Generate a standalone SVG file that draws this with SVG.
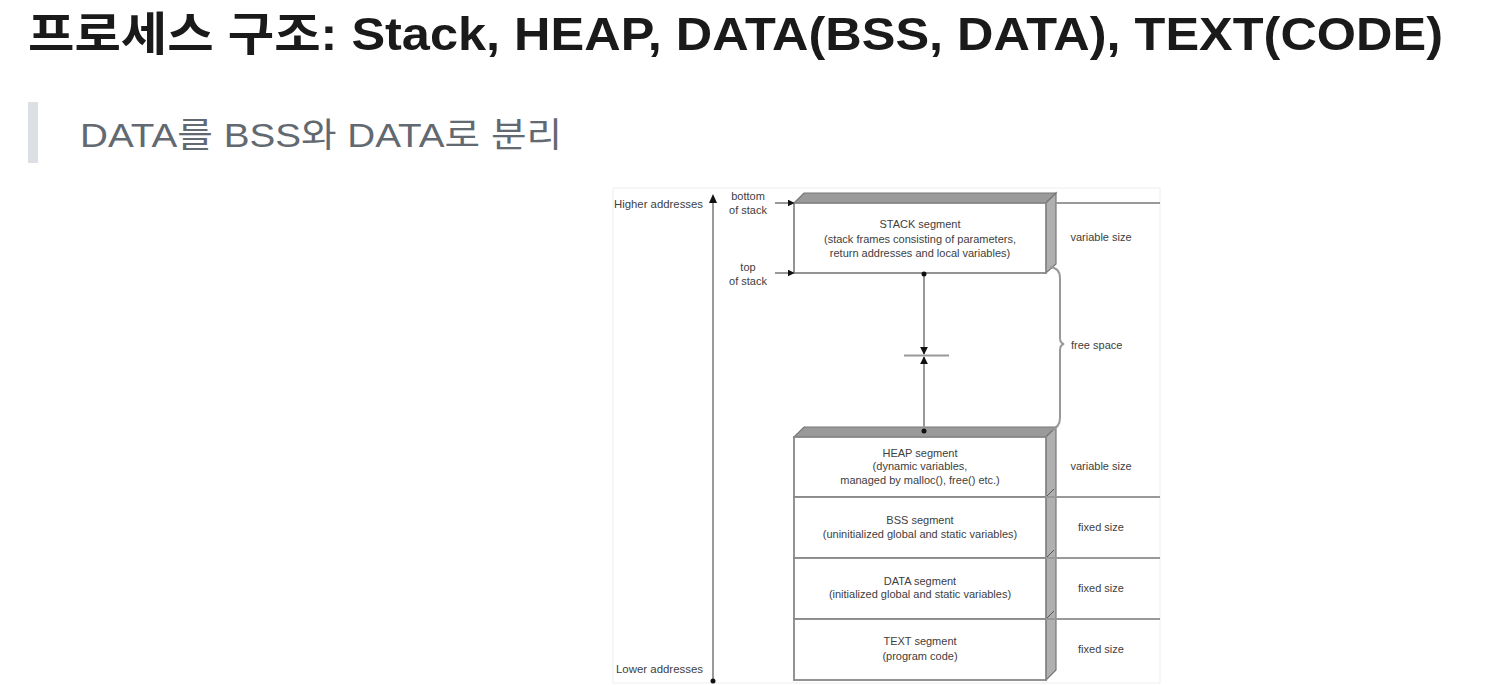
<svg xmlns="http://www.w3.org/2000/svg" width="1491" height="685" viewBox="0 0 1491 685">
<defs>
<style>
.t{font-family:"Liberation Sans","Noto Sans CJK KR",sans-serif;}
.d{font-family:"Liberation Sans",Arial,sans-serif;font-size:11px;fill:#404040;}
.m{text-anchor:middle;}
.ln{stroke:#999;stroke-width:2;fill:none;}
.box{fill:#fff;stroke:#888;stroke-width:1.8;}
.top{fill:#9a9a9a;stroke:#777;stroke-width:1.2;}
.side{fill:#b0b0b0;stroke:#777;stroke-width:1.2;}
</style>
<marker id="ah" viewBox="0 0 10 10" refX="9" refY="5" markerWidth="7" markerHeight="7" orient="auto" markerUnits="userSpaceOnUse">
<path d="M0,0 L10,5 L0,10 z" fill="#111"/>
</marker>
<marker id="ah2" viewBox="0 0 10 10" refX="9" refY="5" markerWidth="8" markerHeight="9" orient="auto" markerUnits="userSpaceOnUse">
<path d="M0,0 L10,5 L0,10 z" fill="#111"/>
</marker>
</defs>
<rect width="1491" height="685" fill="#fff"/>
<g id="title">
<text class="t" x="28" y="50" font-size="46" font-weight="bold" fill="#1a1a1a" textLength="1415" lengthAdjust="spacingAndGlyphs">프로세스 구조: Stack, HEAP, DATA(BSS, DATA), TEXT(CODE)</text>
</g>
<g id="subtitle">
<rect x="28" y="102" width="10" height="61" fill="#dcdfe3"/>
<text class="t" x="80" y="147" font-size="34" fill="#626971" textLength="482" lengthAdjust="spacingAndGlyphs">DATA를 BSS와 DATA로 분리</text>
</g>
<g id="frame">
<rect x="613" y="188" width="547" height="495" fill="#fff" stroke="#eeeeee" stroke-width="1"/>
</g>
<g id="addresses">
<text class="d" x="614" y="208" textLength="89" lengthAdjust="spacingAndGlyphs">Higher addresses</text>
<text class="d" x="616" y="673" textLength="87" lengthAdjust="spacingAndGlyphs">Lower addresses</text>
<text class="d m" x="748" y="200">bottom</text>
<text class="d m" x="748" y="214">of stack</text>
<text class="d m" x="748" y="271">top</text>
<text class="d m" x="748" y="285">of stack</text>
</g>
<g id="stack">
<polygon class="top" points="794,203 804,193 1056,193 1046,203"/>
<polygon class="side" points="1046,203 1056,193 1056,264 1046,273"/>
<rect class="box" x="794" y="203" width="252" height="70"/>
<text class="d m" x="920" y="228">STACK segment</text>
<text class="d m" x="920" y="243">(stack frames consisting of parameters,</text>
<text class="d m" x="920" y="257">return addresses and local variables)</text>
<text class="d m" x="1101" y="241">variable size</text>
</g>
<g id="heap">
<polygon class="top" points="794,437 804,427 1056,427 1046,437"/>
<polygon class="side" points="1046,437 1056,427 1056,670 1046,680"/>
<rect class="box" x="794" y="437" width="252" height="60"/>
<text class="d m" x="920" y="457">HEAP segment</text>
<text class="d m" x="920" y="470">(dynamic variables,</text>
<text class="d m" x="920" y="484">managed by malloc(), free() etc.)</text>
<text class="d m" x="1101" y="470">variable size</text>
</g>
<g id="bss">
<rect class="box" x="794" y="497" width="252" height="61"/>
<text class="d m" x="920" y="524">BSS segment</text>
<text class="d m" x="920" y="538">(uninitialized global and static variables)</text>
<text class="d m" x="1101" y="531">fixed size</text>
</g>
<g id="data">
<rect class="box" x="794" y="558" width="252" height="61"/>
<text class="d m" x="920" y="585">DATA segment</text>
<text class="d m" x="920" y="598">(initialized global and static variables)</text>
<text class="d m" x="1101" y="592">fixed size</text>
</g>
<g id="textseg">
<rect class="box" x="794" y="619" width="252" height="61"/>
<text class="d m" x="920" y="645">TEXT segment</text>
<text class="d m" x="920" y="660">(program code)</text>
<text class="d m" x="1101" y="653">fixed size</text>
</g>
<g id="freespace">
<path class="ln" d="M1050,267 Q1060,268 1060,278 L1060,338 Q1060,343 1064,344 Q1060,345 1060,350 L1060,418 Q1060,428 1050,430"/>
<text class="d" x="1071" y="349">free space</text>
</g>
<g id="connectors">
<line class="ln" x1="713" y1="200" x2="713" y2="681"/>
<path d="M709,203 L713,194 L717,203 z" fill="#111"/>
<circle cx="713" cy="681" r="2.5" fill="#111"/>
<line class="ln" x1="775" y1="203" x2="794" y2="203" marker-end="url(#ah)"/>
<line class="ln" x1="775" y1="273" x2="794" y2="273" marker-end="url(#ah)"/>
<line class="ln" x1="1056" y1="203" x2="1160" y2="203"/>
<line class="ln" x1="1046" y1="497" x2="1160" y2="497"/>
<line class="ln" x1="1046" y1="558" x2="1160" y2="558"/>
<line class="ln" x1="1046" y1="619" x2="1160" y2="619"/>
<line x1="1047" y1="496" x2="1054" y2="489" stroke="#555" stroke-width="1"/>
<line x1="1047" y1="557" x2="1054" y2="550" stroke="#555" stroke-width="1"/>
<line x1="1047" y1="618" x2="1054" y2="611" stroke="#555" stroke-width="1"/>
<line class="ln" x1="924" y1="274" x2="924" y2="354" marker-end="url(#ah2)"/>
<line class="ln" x1="924" y1="431" x2="924" y2="357" marker-end="url(#ah2)"/>
<line class="ln" x1="904" y1="355.5" x2="949" y2="355.5"/>
<circle cx="924" cy="274" r="2.5" fill="#111"/>
<circle cx="924" cy="431" r="2.5" fill="#111"/>
</g>
</svg>
